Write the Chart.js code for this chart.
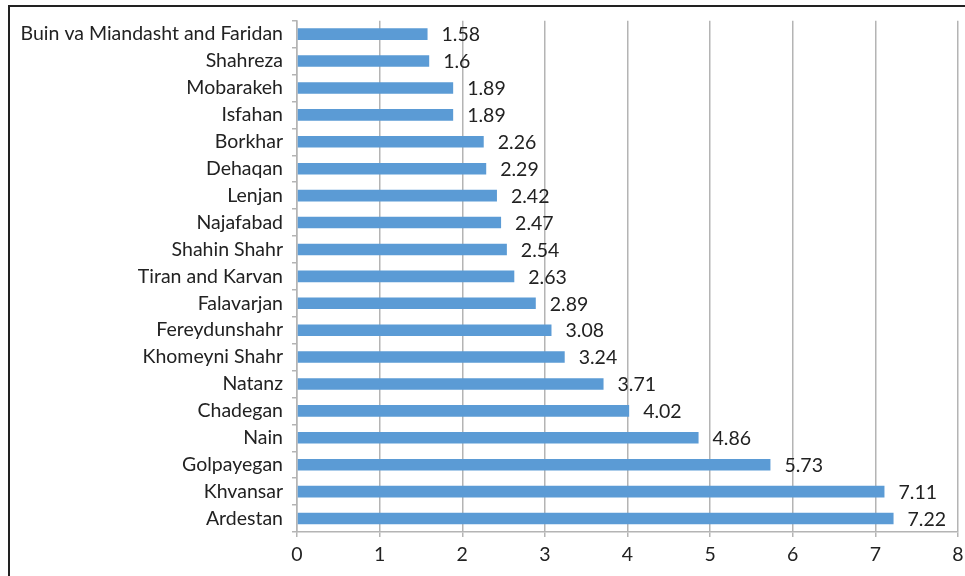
<!DOCTYPE html>
<html><head><meta charset="utf-8">
<script src="https://cdn.jsdelivr.net/npm/chart.js@4/dist/chart.umd.min.js"></script>
<style>
html,body{margin:0;padding:0;background:#fff;}
#wrap{position:relative;width:965px;height:576px;}
#frame{position:absolute;left:8px;top:5px;width:957px;height:571px;border-top:2px solid #222;border-left:2px solid #222;box-sizing:border-box;pointer-events:none;}
canvas{position:absolute;left:0;top:0;}
</style></head>
<body>
<div id="wrap"><canvas id="c" width="965" height="576"></canvas><div id="frame"></div></div>
<script>
const categories = ["Buin va Miandasht and Faridan","Shahreza","Mobarakeh","Isfahan","Borkhar","Dehaqan","Lenjan","Najafabad","Shahin Shahr","Tiran and Karvan","Falavarjan","Fereydunshahr","Khomeyni Shahr","Natanz","Chadegan","Nain","Golpayegan","Khvansar","Ardestan"];
const values = [1.58,1.6,1.89,1.89,2.26,2.29,2.42,2.47,2.54,2.63,2.89,3.08,3.24,3.71,4.02,4.86,5.73,7.11,7.22];
const xTicks = [0,1,2,3,4,5,6,7,8];

const labelPlugin = {
  id:'valueLabels',
  afterDatasetsDraw(chart){
    const ctx = chart.ctx;
    const meta = chart.getDatasetMeta(0);
    ctx.save();
    ctx.font = '19.5px Lato';
    ctx.fillStyle = '#222';
    ctx.textBaseline = 'middle';
    ctx.textAlign = 'left';
    meta.data.forEach((bar,i)=>{
      ctx.fillText(String(values[i]), bar.x + 14, bar.y + 1);
    });
    ctx.restore();
  }
};

new Chart(document.getElementById('c'), {
  type:'bar',
  data:{labels:categories, datasets:[{data:values, backgroundColor:'#5b9bd5', borderWidth:0, barPercentage:0.43, categoryPercentage:1}]},
  options:{
    indexAxis:'y',
    responsive:false,
    animation:false,
    layout:{padding:{left:0,right:7,top:17,bottom:0}},
    plugins:{legend:{display:false}, tooltip:{enabled:false}},
    scales:{
      x:{
        min:0,max:8,
        afterBuildTicks(s){ s.ticks = xTicks.map(v=>({value:v})); },
        afterFit(s){ s.height = 44; s.paddingRight = 0; s.paddingLeft = 0; },
        grid:{color:'#b4b4b4', lineWidth:1.5, tickLength:5, drawTicks:true},
        border:{color:'#b4b4b4', width:1.5},
        ticks:{color:'#222', font:{family:'Lato', size:19.5}, padding:6}
      },
      y:{
        afterFit(s){ s.width = 297; },
        grid:{drawOnChartArea:false, color:'#b4b4b4', lineWidth:1.5, tickLength:5, offset:true},
        border:{color:'#b4b4b4', width:1.5},
        ticks:{color:'#222', font:{family:'Lato', size:19.5}, padding:9, autoSkip:false}
      }
    }
  },
  plugins:[labelPlugin]
});
</script>
</body></html>
